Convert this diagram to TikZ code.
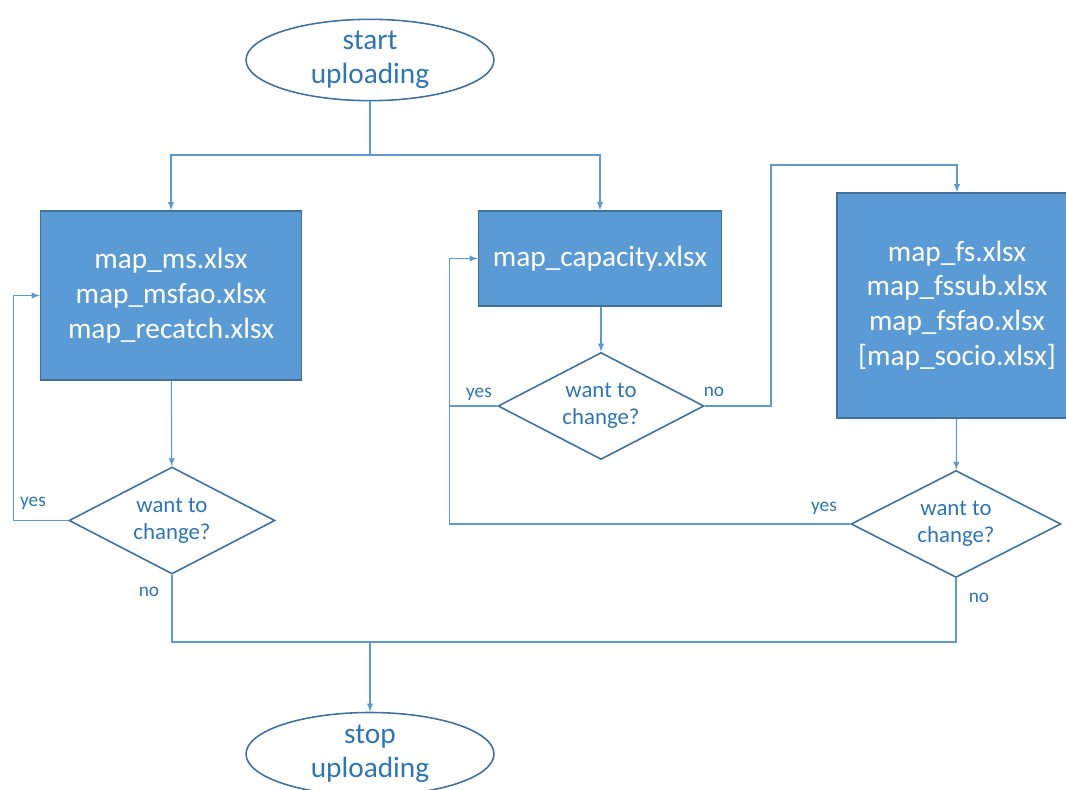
\documentclass[tikz,border=0pt]{standalone}
\usepackage{fontspec}
\setmainfont{Carlito}
\usetikzlibrary{shapes.geometric}
\definecolor{boxfill}{HTML}{5B9BD5}
\definecolor{boxedge}{HTML}{41719C}
\definecolor{txtblue}{HTML}{2E75B6}
\definecolor{wire}{HTML}{5B9BD5}

\begin{document}
\begin{tikzpicture}[x=0.02cm, y=-0.02cm, >=latex,
	terminal/.style={shape=ellipse, draw=boxedge, line width=0.9pt, text=txtblue, inner sep=0pt,
		minimum width=4.96cm, minimum height=1.6cm, align=center, font=\fontsize{16.7}{19.3}\selectfont},
	filebox/.style={shape=rectangle, draw=boxedge, fill=boxfill, line width=0.9pt, text=white,
		inner sep=0pt, align=center, font=\fontsize{16.7}{19.8}\selectfont},
	query/.style={shape=diamond, aspect=1.93, draw=boxedge, line width=0.9pt, text=txtblue, inner sep=0pt,
		minimum width=4.12cm, minimum height=2.14cm, align=center, font=\fontsize{13}{15.3}\selectfont},
	wireline/.style={draw=wire, line width=0.6pt},
	lbl/.style={text=txtblue, font=\fontsize{11}{13}\selectfont, inner sep=0pt}]
			\useasboundingbox (0,0) rectangle (1066,790);
			
			\node[terminal] (start) at (370,60) {start\\uploading};
			\node[terminal, minimum height=1.66cm] (stop) at (370,754) {stop\\uploading};
			
			\node[filebox, minimum width=5.22cm, minimum height=3.38cm] (ms) at (171,295.5) {map\_ms.xlsx\\map\_msfao.xlsx\\map\_recatch.xlsx};
			\node[filebox, minimum width=4.86cm, minimum height=1.9cm] (cap) at (600,258.5) {map\_capacity.xlsx};
			\node[filebox, minimum width=4.8cm, minimum height=4.5cm] (fs) at (957,305.5) {map\_fs.xlsx\\map\_fssub.xlsx\\map\_fsfao.xlsx\\{[}map\_socio.xlsx{]}};
			
			\node[query] (qms) at (172,520.5) {want to\\change?};
			\node[query] (qcap) at (601,406) {want to\\change?};
			\node[query, minimum width=4.2cm] (qfs) at (956,524) {want to\\change?};
			
			\coordinate (fork) at (370,155);
			\coordinate (merge) at (370,642);
			\coordinate (turn) at (771,165);
			
			\node[lbl] (yesms) at (33,503) {yes};
			\node[lbl] (noms) at (149,592) {no};
			\node[lbl] (yescap) at (479,394) {yes};
			\node[lbl] (nocap) at (714,392) {no};
			\node[lbl] (yesfs) at (824,508) {yes};
			\node[lbl] (nofs) at (979,598) {no};
			
			\path [wireline] (start) -- (fork);
			\path [wireline, ->] (fork) -| (ms.north);
			\path [wireline, ->] (fork) -| (cap.north);
			\path [wireline, ->] (ms) -- (qms);
			\path [wireline, ->] (qms.west) -- ++(-55,0) |- (ms.west);
			\path [wireline] (qms.south) |- (merge);
			\path [wireline, ->] (merge) -- (stop);
			\path [wireline, ->] (cap.south -| qcap.north) -- (qcap);
			\path [wireline, ->] (qcap.west) -- ++(-48,0) coordinate (back) |- (cap.west);
			\path [wireline, ->] (qcap.east) -| (turn) -| (fs.north);
			\path [wireline, ->] (fs) -- (qfs);
			\path [wireline] (qfs.west) -| (back);
			\path [wireline] (qfs.south) |- (merge);
		\end{tikzpicture}
\end{document}
